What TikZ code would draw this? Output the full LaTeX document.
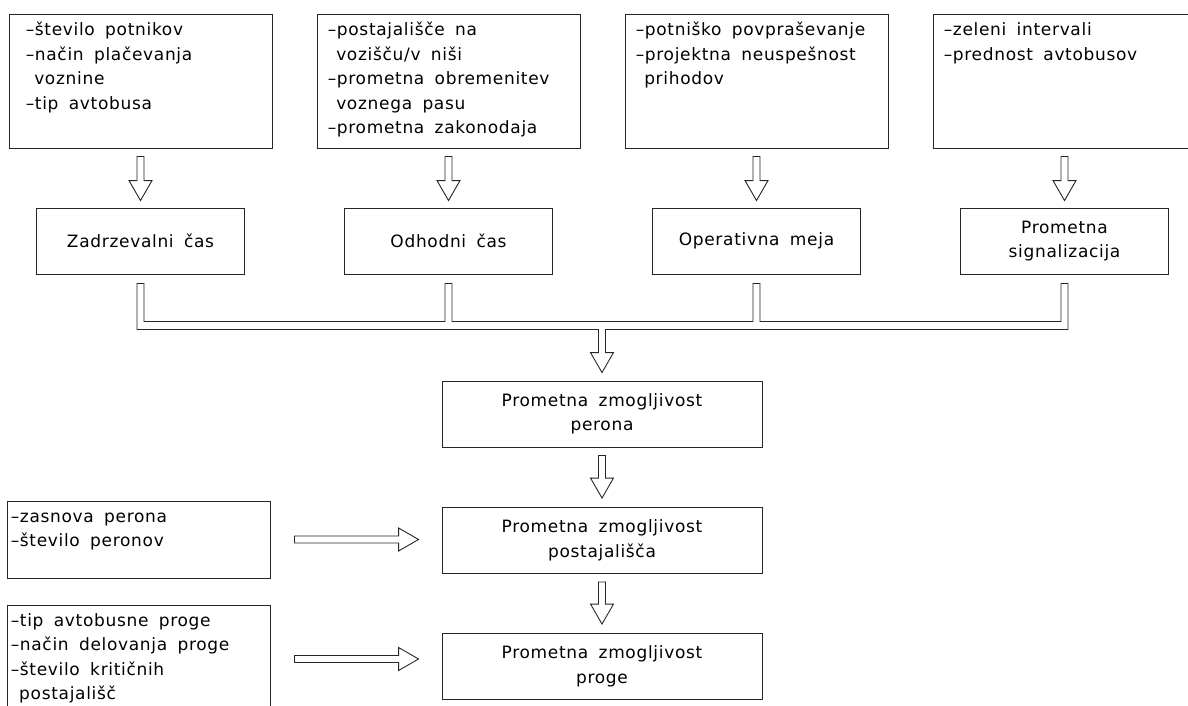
\documentclass[tikz,border=0pt]{standalone}
\usepackage{fontspec}
\setmainfont{DejaVu Sans}[LetterSpace=4,WordSpace=1.7]
\usetikzlibrary{calc}

\newcommand{\colPitch}{308}
\newcommand{\firstCol}{140.5}
\newcommand{\shaftHalf}{3.5pt}
\newcommand{\headHalf}{11.5pt}
\newcommand{\headLength}{20pt}

% hollow block arrows (start, tip)
\newcommand{\hollowDown}[2]{\draw[hollowArrow] let \p1=(#1), \p2=(#2) in (\x2-\shaftHalf,\y1) -- (\x2-\shaftHalf,\y2+\headLength) -- (\x2-\headHalf,\y2+\headLength) -- (\x2,\y2) -- (\x2+\headHalf,\y2+\headLength) -- (\x2+\shaftHalf,\y2+\headLength) -- (\x2+\shaftHalf,\y1) -- cycle;}
\newcommand{\hollowRight}[2]{\draw[hollowArrow] let \p1=(#1), \p2=(#2) in (\x1,\y1-\shaftHalf) -- (\x2-\headLength,\y1-\shaftHalf) -- (\x2-\headLength,\y1-\headHalf) -- (\x2,\y1) -- (\x2-\headLength,\y1+\headHalf) -- (\x2-\headLength,\y1+\shaftHalf) -- (\x1,\y1+\shaftHalf) -- cycle;}

\begin{document}
\begin{tikzpicture}[x=1pt,y=-1pt,font=\fontsize{17}{24.5}\selectfont]
\tikzstyle{factorBox}=[draw=black!85,line width=0.9pt,rectangle,minimum width=263pt,minimum height=134pt,inner sep=0pt]
\tikzstyle{timeBox}=[draw=black!85,line width=0.9pt,rectangle,minimum width=208pt,minimum height=66pt,align=center]
\tikzstyle{capBox}=[draw=black!85,line width=0.9pt,rectangle,minimum width=320pt,minimum height=66pt,align=center]
\tikzstyle{inputBox}=[draw=black!85,line width=0.9pt,rectangle,minimum width=263pt,inner sep=0pt]
\tikzstyle{listText}=[anchor=north west,inner sep=0pt,align=left]
\tikzstyle{hollowArrow}=[draw=black!85,line width=0.9pt,line join=miter]
\useasboundingbox (0,0) rectangle (1188,706);
\node[factorBox] (f-1) at ({\firstCol+0*\colPitch},81) {};
\node[listText] (t-1) at ($(f-1.north west)+(17,5)$) {\strut–število potnikov\\–način plačevanja\\\phantom{–}voznine\\–tip avtobusa};
\node[factorBox] (f-2) at ({\firstCol+1*\colPitch},81) {};
\node[listText] (t-2) at ($(f-2.north west)+(11,5)$) {\strut–postajališče na\\\phantom{–}vozišču/v niši\\–prometna obremenitev\\\phantom{–}voznega pasu\\–prometna zakonodaja};
\node[factorBox] (f-3) at ({\firstCol+2*\colPitch},81) {};
\node[listText] (t-3) at ($(f-3.north west)+(11,5)$) {\strut–potniško povpraševanje\\–projektna neuspešnost\\\phantom{–}prihodov};
\node[factorBox] (f-4) at ({\firstCol+3*\colPitch},81) {};
\node[listText] (t-4) at ($(f-4.north west)+(11,5)$) {\strut–zeleni intervali\\–prednost avtobusov};
\node[timeBox] (d-1) at ({\firstCol+0*\colPitch},241) {Zadrzevalni čas};
\node[timeBox] (d-2) at ({\firstCol+1*\colPitch},241) {Odhodni čas};
\node[timeBox] (d-3) at ({\firstCol+2*\colPitch},241) {Operativna meja};
\node[timeBox] (d-4) at ({\firstCol+3*\colPitch},241) {Prometna\\signalizacija};
\node[capBox] (z-1) at (602,414) {Prometna zmogljivost\\perona};
\node[capBox] (z-2) at (602,540.5) {Prometna zmogljivost\\postajališča};
\node[capBox] (z-3) at (602,666.5) {Prometna zmogljivost\\proge};
\node[inputBox,minimum height=77pt] (l-1) at (138.5,539.5) {};
\node[listText] (t-5) at ($(l-1.north west)+(4,4.5)$) {\strut–zasnova perona\\–število peronov};
\node[inputBox,minimum height=108pt] (l-2) at (138.5,659) {};
\node[listText] (t-6) at ($(l-2.north west)+(4,4.5)$) {\strut–tip avtobusne proge\\–način delovanja proge\\–število kritičnih\\\phantom{–}postajališč};
\hollowDown{$(f-1.south)+(0,8)$}{$(d-1.north)+(0,-7)$}
\hollowDown{$(f-2.south)+(0,8)$}{$(d-2.north)+(0,-7)$}
\hollowDown{$(f-3.south)+(0,8)$}{$(d-3.north)+(0,-7)$}
\hollowDown{$(f-4.south)+(0,8)$}{$(d-4.north)+(0,-7)$}
\draw[hollowArrow] let \p1=(d-1.south), \p2=(d-2.south), \p3=(d-3.south), \p4=(d-4.south), \p5=(z-1.north) in
 (\x1-\shaftHalf,\y1-9pt) -- (\x1-\shaftHalf,\y1-55pt) -- (\x5-\shaftHalf,\y1-55pt) -- (\x5-\shaftHalf,\y5+8pt+\headLength) -- (\x5-\headHalf,\y5+8pt+\headLength) -- (\x5,\y5+8pt) -- (\x5+\headHalf,\y5+8pt+\headLength) -- (\x5+\shaftHalf,\y5+8pt+\headLength) -- (\x5+\shaftHalf,\y1-55pt) -- (\x4+\shaftHalf,\y1-55pt) -- (\x4+\shaftHalf,\y1-9pt) -- (\x4-\shaftHalf,\y1-9pt) -- (\x4-\shaftHalf,\y1-47pt) -- (\x3+\shaftHalf,\y1-47pt) -- (\x3+\shaftHalf,\y1-9pt) -- (\x3-\shaftHalf,\y1-9pt) -- (\x3-\shaftHalf,\y1-47pt) -- (\x2+\shaftHalf,\y1-47pt) -- (\x2+\shaftHalf,\y1-9pt) -- (\x2-\shaftHalf,\y1-9pt) -- (\x2-\shaftHalf,\y1-47pt) -- (\x1+\shaftHalf,\y1-47pt) -- (\x1+\shaftHalf,\y1-9pt) -- cycle;
\hollowDown{$(z-1.south)+(0,8)$}{$(z-2.north)+(0,-9)$}
\hollowDown{$(z-2.south)+(0,8)$}{$(z-3.north)+(0,-9)$}
\hollowRight{$(l-1.east)+(24,0)$}{$(z-2.west)+(-23,0)$}
\hollowRight{$(l-2.east)+(24,0)$}{$(z-3.west)+(-23,0)$}
\end{tikzpicture}
\end{document}
